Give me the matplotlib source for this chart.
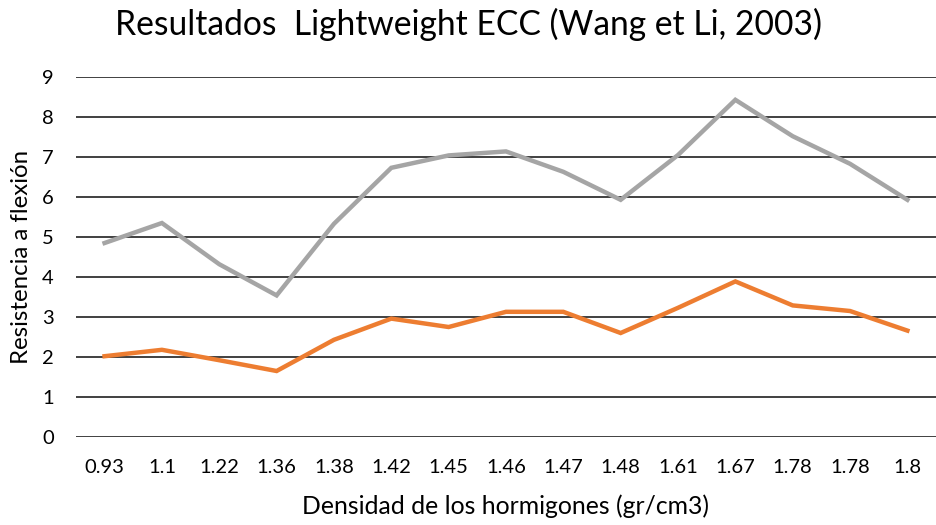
import matplotlib.pyplot as plt

densidad = ["0.93", "1.1", "1.22", "1.36", "1.38", "1.42", "1.45", "1.46",
            "1.47", "1.48", "1.61", "1.67", "1.78", "1.78", "1.8"]
serie_gris = [4.85, 5.35, 4.32, 3.54, 5.33, 6.73, 7.04, 7.14,
              6.63, 5.93, 7.05, 8.43, 7.52, 6.83, 5.93]
serie_naranja = [2.02, 2.18, 1.92, 1.65, 2.43, 2.96, 2.75, 3.13,
                 3.13, 2.6, 3.23, 3.89, 3.29, 3.15, 2.66]

plt.rcParams['font.family'] = ['Lato', 'DejaVu Sans']

fig = plt.figure(figsize=(9.37, 5.25), dpi=100)
ax = fig.add_axes([0.081, 0.1676, 0.918, 0.6857])

x = range(len(densidad))
ax.plot(x, serie_gris, color="#A5A5A5", lw=3.2, solid_joinstyle="miter", zorder=3)
ax.plot(x, serie_naranja, color="#ED7D31", lw=3.2, solid_joinstyle="miter", zorder=3)

ax.set_xlim(-0.5, len(densidad) - 0.5)
ax.set_ylim(0, 9)
ax.set_yticks(range(10))
ax.set_xticks(list(x))
ax.set_xticklabels(densidad)
ax.yaxis.grid(True, color="#404040", lw=1.4)
ax.set_axisbelow(True)
for s in ax.spines.values():
    s.set_visible(False)
ax.tick_params(length=0, labelsize=14.5, colors="black")
ax.tick_params(axis="x", pad=16)
ax.tick_params(axis="y", pad=16)

ax.set_xlabel("Densidad de los hormigones (gr/cm3)", fontsize=17.8, labelpad=13)
ax.set_ylabel("Resistencia a flexión", fontsize=17.3, labelpad=7)
fig.suptitle("Resultados  Lightweight ECC (Wang et Li, 2003)", fontsize=24.2, x=0.5, y=0.985)

fig.savefig("out.png", dpi=100)
